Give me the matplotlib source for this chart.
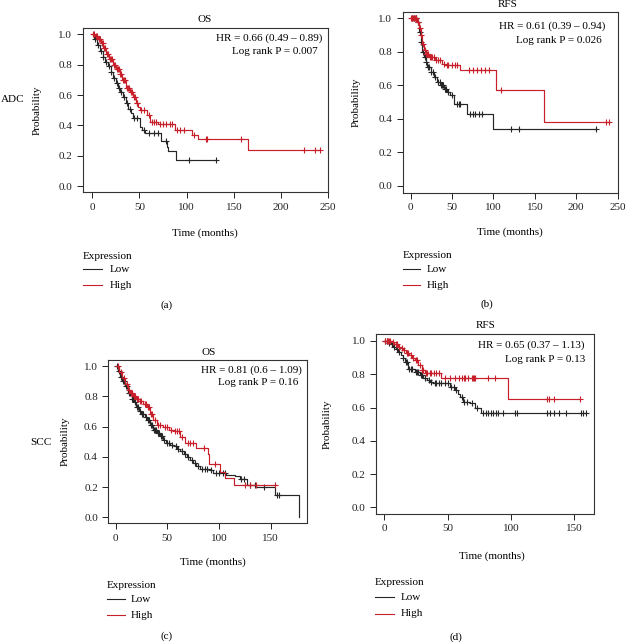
import numpy as np
import matplotlib
matplotlib.use("Agg")
import matplotlib.pyplot as plt
from matplotlib.lines import Line2D

plt.rcParams['font.family'] = ['Liberation Serif', 'DejaVu Serif']

W, H = 626, 642

# ---------------- data ----------------
# (a) ADC OS
a_low_t = [0, 2, 5, 8, 11, 14, 17, 20, 22, 25, 27.5, 30, 33, 36, 38, 41, 43, 47, 50.5, 53, 56, 73, 79, 80.5, 89]
a_low_s = [1.0, 0.97, 0.93, 0.89, 0.85, 0.82, 0.79, 0.75, 0.71, 0.68, 0.65, 0.62, 0.59, 0.55, 0.51, 0.48, 0.45, 0.45, 0.39, 0.37, 0.35, 0.30, 0.26, 0.23, 0.17]
a_low_end = 131
a_low_cens = [3, 6, 9, 12, 15, 18, 20, 23, 26, 28, 31, 34, 37, 40, 44, 48, 55, 60, 65, 70, 78, 103, 131]
a_high_t = [0, 3, 6, 9, 12, 15, 18, 22, 25, 29, 32, 36, 40, 43, 46, 49, 50.5, 57.6, 61, 70, 87.6, 106, 112, 165]
a_high_s = [1.0, 0.99, 0.97, 0.94, 0.91, 0.87, 0.84, 0.80, 0.77, 0.74, 0.70, 0.65, 0.62, 0.59, 0.55, 0.52, 0.50, 0.47, 0.42, 0.41, 0.37, 0.34, 0.31, 0.24]
a_high_end = 241
a_high_cens = [1, 2, 4, 5, 7, 8, 10, 11, 13, 14, 16, 17, 19, 20, 21, 23, 24, 26, 27, 28, 30, 31, 33, 34, 35, 37, 38,
               39, 41, 42, 44, 45, 47, 48, 52, 55, 60, 63, 66, 68, 72, 75, 78, 82, 85, 90, 93, 97, 108, 120, 122,
               158, 224, 236, 241]

# (b) ADC RFS
b_low_t = [0, 8, 10, 12, 14, 16, 18, 20, 24, 28, 32, 36, 40, 44, 48, 52, 68, 99]
b_low_s = [1.0, 0.98, 0.92, 0.86, 0.80, 0.77, 0.74, 0.71, 0.68, 0.65, 0.62, 0.60, 0.58, 0.56, 0.54, 0.49, 0.43, 0.34]
b_low_end = 224
b_low_cens = [2, 4, 6, 9, 11, 13, 15, 17, 19, 21, 22, 25, 27, 30, 33, 35, 37, 38, 39, 41, 43, 45, 50, 56, 58, 60,
              72, 75, 78, 82, 86, 121, 131, 224]
b_high_t = [0, 8, 10, 12, 14, 16, 18, 22, 30, 38, 42, 60, 103, 161]
b_high_s = [1.0, 0.98, 0.94, 0.90, 0.85, 0.81, 0.79, 0.77, 0.75, 0.73, 0.72, 0.69, 0.57, 0.38]
b_high_end = 240
b_high_cens = [1, 2, 3, 4, 5, 6, 7, 9, 11, 13, 15, 17, 19, 20, 21, 23, 25, 26, 28, 31, 33, 35, 40, 44, 45, 50, 53,
               56, 70, 75, 80, 85, 90, 95, 109, 236, 240]

# (c) SCC OS
c_low_t = [0, 2, 4, 6, 9, 12, 15.5, 18, 20, 23, 25, 28, 30, 33, 36.5, 40, 43, 46, 49, 53, 56, 59, 62, 66, 69, 72,
           75, 78, 82, 91, 94.5, 107, 115, 120, 127, 136, 154, 177.7]
c_low_s = [1.0, 0.97, 0.93, 0.90, 0.87, 0.82, 0.78, 0.76, 0.73, 0.70, 0.68, 0.66, 0.64, 0.61, 0.58, 0.56, 0.54,
           0.51, 0.49, 0.48, 0.47, 0.45, 0.44, 0.42, 0.40, 0.38, 0.36, 0.34, 0.32, 0.31, 0.29, 0.28, 0.27, 0.25,
           0.21, 0.20, 0.15, 0.0]
c_low_end = 177.7
c_low_cens = [1, 3, 5, 7, 8, 10, 11, 13, 14, 16, 17, 19, 21, 22, 24, 26, 27, 29, 31, 32, 34, 35, 37, 38, 39, 41,
              42, 44, 45, 47, 50, 52, 55, 58, 60, 64, 67, 70, 74, 77, 80, 84, 86, 88, 92, 97, 100, 104, 106, 121,
              124, 130, 135, 143, 156, 158]
c_high_t = [0, 3, 6, 9, 12, 14, 17, 20, 23.5, 27, 30, 33, 36.5, 40, 46, 52, 56, 62, 67, 78, 89.7, 90.6, 101, 106, 114]
c_high_s = [1.0, 0.96, 0.92, 0.88, 0.84, 0.82, 0.80, 0.78, 0.77, 0.75, 0.73, 0.68, 0.64, 0.61, 0.60, 0.58, 0.57,
            0.53, 0.49, 0.46, 0.42, 0.35, 0.30, 0.26, 0.21]
c_high_end = 154
c_high_cens = [2, 5, 8, 11, 13, 15, 16, 18, 19, 21, 22, 24, 25, 28, 29, 31, 32, 34, 35, 38, 41, 43, 48, 50, 54, 57,
               59, 61, 64, 70, 72, 75, 85, 96, 125, 130, 136, 154]

# (d) SCC RFS
d_low_t = [0, 3, 5, 7, 9, 11, 13, 14.5, 16.5, 19, 24, 28, 31, 33.5, 36, 38.7, 52, 56, 58, 60, 62, 67.5, 71.5, 76.7]
d_low_s = [1.0, 0.99, 0.98, 0.965, 0.95, 0.935, 0.915, 0.90, 0.875, 0.83, 0.815, 0.795, 0.78, 0.765, 0.755, 0.745,
           0.725, 0.705, 0.68, 0.665, 0.635, 0.625, 0.595, 0.565]
d_low_end = 159
d_low_cens = [1, 2, 4, 6, 8, 10, 12, 15, 17, 18, 20, 21, 22, 25, 26, 27, 29, 30, 32, 35, 37, 40, 41, 43, 45, 48,
              50, 53, 55, 57, 61, 63, 65, 69, 73, 78, 80, 82, 84, 86, 88, 90, 94, 103, 105, 128, 131, 134, 138,
              143, 155, 157, 159]
d_high_t = [0, 6, 8, 11, 13, 15, 17, 20, 22, 24, 27, 29.6, 32, 44.5, 98]
d_high_s = [1.0, 0.995, 0.98, 0.965, 0.955, 0.945, 0.93, 0.915, 0.90, 0.885, 0.855, 0.825, 0.81, 0.78, 0.65]
d_high_end = 154
d_high_cens = [1, 2, 3, 4, 5, 7, 9, 10, 12, 14, 16, 18, 19, 21, 23, 25, 26, 28, 30, 31, 33, 34, 36, 37, 39, 41,
               43, 48, 52, 56, 59, 61, 63, 64, 66, 69, 70, 71, 72, 82, 87, 128, 130, 134, 154]

titles = ["OS", "RFS", "OS", "RFS"]
hr_texts = ["HR = 0.66 (0.49 \u2013 0.89)", "HR = 0.61 (0.39 \u2013 0.94)",
            "HR = 0.81 (0.6 \u2013 1.09)", "HR = 0.65 (0.37 \u2013 1.13)"]
p_texts = ["Log rank P = 0.007", "Log rank P = 0.026", "Log rank P = 0.16", "Log rank P = 0.13"]
panel_labels = ["(a)", "(b)", "(c)", "(d)"]
row_labels = ["ADC", "SCC"]
legend_title = "Expression"
legend_names = ["Low", "High"]
x_ticks = [[0, 50, 100, 150, 200, 250], [0, 50, 100, 150, 200, 250], [0, 50, 100, 150], [0, 50, 100, 150]]
y_ticks = [0.0, 0.2, 0.4, 0.6, 0.8, 1.0]

LOW_C = "#262626"
HIGH_C = "#c8202a"
FS = 8.0

fig = plt.figure(figsize=(W / 100, H / 100), dpi=100)


def fx(px):
    return px / W


def fy(py):
    return 1 - py / H


def box(l, t, r, b):
    return [fx(l), fy(b), fx(r) - fx(l), fy(t) - fy(b)]


layout = [
    dict(box=box(82.7, 28.3, 328.3, 192.3), xlim=(-10, 250),
         title=(205, 20), hr=(322, 37.7), p=(318, 51), ylab=36.7, xlab=(205, 233.3),
         leg=(82.7, 256.7, 101.7, 110, 269.3, 285), plab=(166.7, 305)),
    dict(box=box(402.7, 11.7, 617.7, 192.7), xlim=(-9.6, 249.6),
         title=(508, 4.5), hr=(605, 26), p=(602, 40.7), ylab=356, xlab=(510, 232),
         leg=(402.7, 256, 420, 426.7, 269.3, 285), plab=(486.7, 304)),
    dict(box=box(108.3, 360, 306.7, 523.3), xlim=(-7, 184.7),
         title=(208.3, 352.7), hr=(302, 370), p=(298, 382.7), ylab=65, xlab=(213.3, 562.3),
         leg=(106.7, 586, 125, 130.7, 599.3, 615), plab=(166.7, 635.7)),
    dict(box=box(376, 334.3, 594, 514), xlim=(-6.4, 165.4),
         title=(485.7, 325.7), hr=(584.3, 345), p=(585.7, 359.3), ylab=326.7, xlab=(492.3, 556),
         leg=(375, 582.3, 394, 401, 597.3, 614), plab=(455.7, 636.7)),
]

series = [
    ((a_low_t, a_low_s, a_low_end, a_low_cens), (a_high_t, a_high_s, a_high_end, a_high_cens)),
    ((b_low_t, b_low_s, b_low_end, b_low_cens), (b_high_t, b_high_s, b_high_end, b_high_cens)),
    ((c_low_t, c_low_s, c_low_end, c_low_cens), (c_high_t, c_high_s, c_high_end, c_high_cens)),
    ((d_low_t, d_low_s, d_low_end, d_low_cens), (d_high_t, d_high_s, d_high_end, d_high_cens)),
]


def draw_km(ax, t, s, end, cens, color):
    t = np.asarray(t, float)
    s = np.asarray(s, float)
    tt = np.append(t, end)
    ss = np.append(s, s[-1])
    ax.step(tt, ss, where='post', color=color, lw=0.85)
    c = np.asarray(cens, float)
    idx = np.searchsorted(t, c, side='right') - 1
    ax.plot(c, s[idx], ls='none', marker='+', ms=4.4, mew=0.8, color=color)


for i, L in enumerate(layout):
    ax = fig.add_axes(L['box'])
    for k, (t, s, end, cens) in enumerate(series[i]):
        draw_km(ax, t, s, end, cens, LOW_C if k == 0 else HIGH_C)
    ax.set_xlim(*L['xlim'])
    ax.set_ylim(-0.04, 1.04)
    ax.set_xticks(x_ticks[i])
    ax.set_xticklabels([str(v) for v in x_ticks[i]])
    ax.set_yticks(y_ticks)
    ax.set_yticklabels([f"{v:.1f}" for v in y_ticks])
    ax.tick_params(direction='out', length=4.5, width=0.7, labelsize=FS, colors='#222222', pad=3)
    for sp in ax.spines.values():
        sp.set_linewidth(0.8)
        sp.set_color('#333333')

    fig.text(fx(L['title'][0]), fy(L['title'][1]), titles[i], ha='center', va='center', fontsize=FS)
    fig.text(fx(L['hr'][0]), fy(L['hr'][1]), hr_texts[i], ha='right', va='center', fontsize=FS)
    fig.text(fx(L['p'][0]), fy(L['p'][1]), p_texts[i], ha='right', va='center', fontsize=FS)
    b = L['box']
    fig.text(fx(L['ylab']), b[1] + b[3] / 2, "Probability", rotation=90, ha='center', va='center', fontsize=FS)
    fig.text(fx(L['xlab'][0]), fy(L['xlab'][1]), "Time (months)", ha='center', va='center', fontsize=FS)
    lx0, ly, lx1, ltx, ly1, ly2 = L['leg']
    fig.text(fx(lx0), fy(ly), legend_title, ha='left', va='center', fontsize=FS)
    for yy, name, col in [(ly1, legend_names[0], LOW_C), (ly2, legend_names[1], HIGH_C)]:
        fig.add_artist(Line2D([fx(lx0), fx(lx1)], [fy(yy), fy(yy)], color=col, lw=0.8,
                              transform=fig.transFigure))
        fig.text(fx(ltx), fy(yy), name, ha='left', va='center', fontsize=FS)
    fig.text(fx(L['plab'][0]), fy(L['plab'][1]), panel_labels[i], ha='center', va='center', fontsize=FS)

fig.text(fx(12.5), fy(100), row_labels[0], ha='center', va='center', fontsize=FS)
fig.text(fx(40.8), fy(442.7), row_labels[1], ha='center', va='center', fontsize=FS)

fig.savefig("out.png", dpi=100)
